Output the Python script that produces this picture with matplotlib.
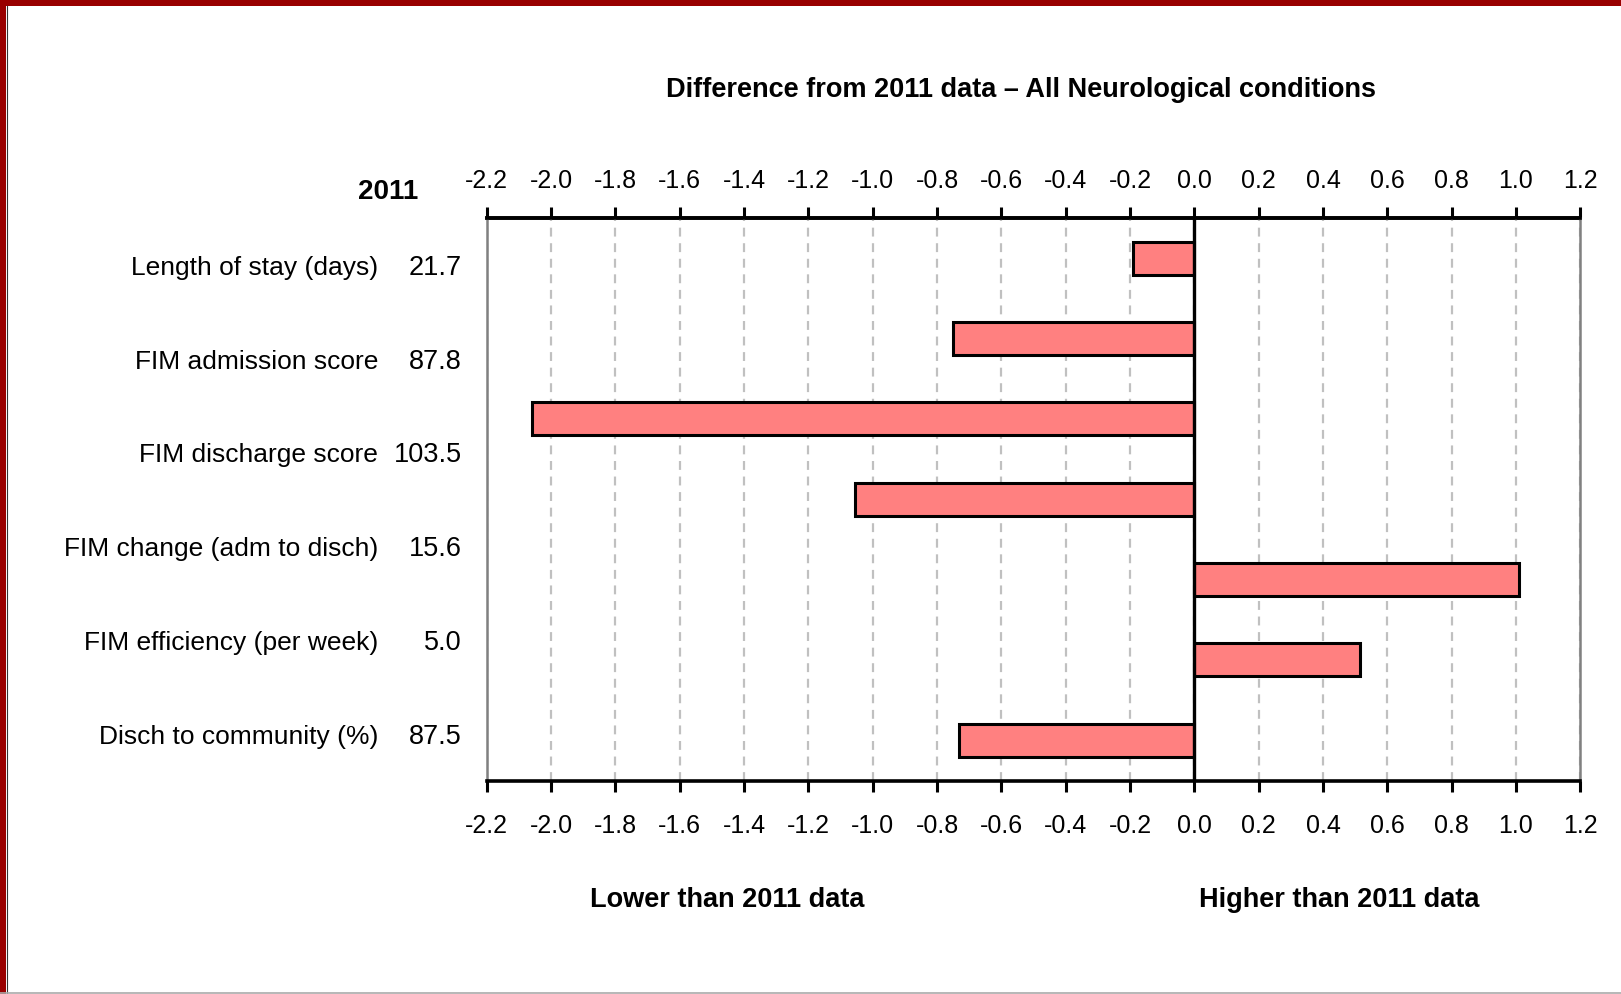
import matplotlib
matplotlib.use("Agg")
import matplotlib.pyplot as plt
from matplotlib.patches import Rectangle
from matplotlib import font_manager

names = {f.name for f in font_manager.fontManager.ttflist}
FAM = ['Liberation Sans Narrow', 'Liberation Sans', 'DejaVu Sans'] if 'Liberation Sans Narrow' in names else ['Liberation Sans', 'DejaVu Sans']
plt.rcParams['font.family'] = FAM

title = "Difference from 2011 data \u2013 All Neurological conditions"
categories = ["Length of stay (days)", "FIM admission score", "FIM discharge score",
              "FIM change (adm to disch)", "FIM efficiency (per week)", "Disch to community (%)"]
values_2011 = ["21.7", "87.8", "103.5", "15.6", "5.0", "87.5"]
bar_diffs = [-0.19, -0.75, -2.06, -1.055, 1.008, 0.515, -0.731]
ticks = [-2.2, -2.0, -1.8, -1.6, -1.4, -1.2, -1.0, -0.8, -0.6, -0.4, -0.2,
         0.0, 0.2, 0.4, 0.6, 0.8, 1.0, 1.2]
tick_labels = [f"{t:.1f}" for t in ticks]

W, H = 1621, 994
fig = plt.figure(figsize=(W / 100, H / 100), dpi=100)
fig.patch.set_facecolor('white')

# border
fig.patches.append(Rectangle((0, 1 - 6 / H), 1, 6 / H, transform=fig.transFigure,
                             facecolor='#990000', edgecolor='none'))
fig.patches.append(Rectangle((0, 0), 6 / W, 1, transform=fig.transFigure,
                             facecolor='#990000', edgecolor='none'))
fig.lines.append(plt.Line2D([6.5 / W, 6.5 / W], [0, 1 - 6 / H], transform=fig.transFigure,
                            color='#333333', lw=0.8))
fig.lines.append(plt.Line2D([0, 1], [1.5 / H, 1.5 / H], transform=fig.transFigure,
                            color='#aaaaaa', lw=1.2))

left, right = 486.7, 1580.3
top, bottom = 218, 780.5
ax = fig.add_axes([left / W, 1 - bottom / H, (right - left) / W, (bottom - top) / H])

n = len(bar_diffs)
pos = [i + 0.5 for i in range(n)]
ax.barh(pos, bar_diffs, height=0.41, color='#FF8080', edgecolor='black', linewidth=2.2, zorder=3)
ax.set_xlim(-2.2, 1.2)
ax.set_ylim(n, 0)
ax.set_xticks(ticks)
ax.set_xticklabels(tick_labels)
ax.set_yticks([])
ax.grid(axis='x', color='#c0c0c0', linestyle=(0, (4, 3)), linewidth=1.6, zorder=0)
ax.axvline(0, color='black', lw=2.4, zorder=4)

ax.tick_params(axis='x', top=False, bottom=True, labeltop=False, labelbottom=True,
               direction='out', length=8, width=2.2, labelsize=18, pad=16, colors='black')
for s in ['top', 'bottom']:
    ax.spines[s].set_linewidth(2.6)
    ax.spines[s].set_color('black')
for s in ['left', 'right']:
    ax.spines[s].set_linewidth(1.8)
    ax.spines[s].set_color('#808080')

sec = ax.secondary_xaxis('top')
sec.set_xticks(ticks)
sec.set_xticklabels(tick_labels)
sec.tick_params(axis='x', direction='out', length=8, width=2.2, labelsize=18, pad=10, colors='black')
sec.spines['top'].set_linewidth(2.6)
sec.spines['top'].set_color('black')

m = len(categories)
for i, (c, v) in enumerate(zip(categories, values_2011)):
    yf = 1 - (i + 0.5) / m - 3 / (bottom - top)
    ax.text((378 - left) / (right - left), yf, c, transform=ax.transAxes, ha='right',
            va='center', fontsize=19)
    ax.text((462 - left) / (right - left), yf, v, transform=ax.transAxes, ha='right',
            va='center', fontsize=19.5)

fig.text(1021 / W, 1 - 90 / H, title, ha='center', va='center', fontsize=19.5, fontweight='bold')
fig.text(418 / W, 1 - 192 / H, "2011", ha='right', va='center', fontsize=20, fontweight='bold')
fig.text(727 / W, 1 - 900 / H, "Lower than 2011 data", ha='center', va='center',
         fontsize=19.5, fontweight='bold')
fig.text(1339 / W, 1 - 900 / H, "Higher than 2011 data", ha='center', va='center',
         fontsize=19.5, fontweight='bold')

fig.savefig("out.png", dpi=100, facecolor='white')
